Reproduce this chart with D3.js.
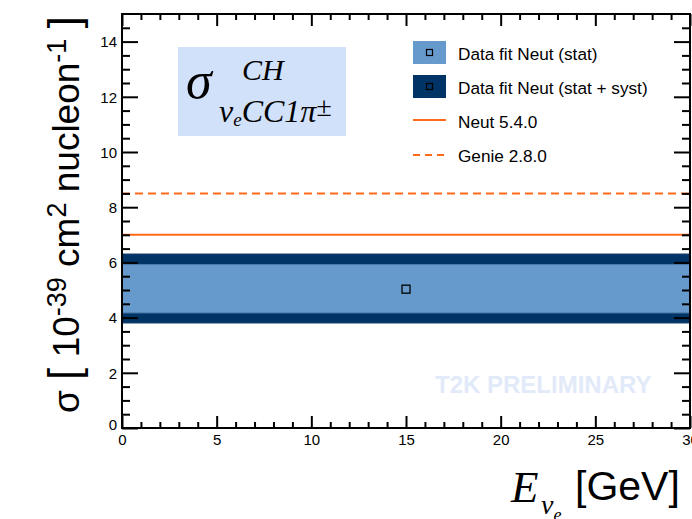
<!DOCTYPE html>
<html><head><meta charset="utf-8">
<script src="https://cdn.jsdelivr.net/npm/d3@7"></script>
<style>body{margin:0;background:#fff}svg{display:block}</style>
</head><body>
<script>
// ---- data ----
const xDomain = [0, 30];
const yDomain = [0, 15];
const xMajorTicks = [0, 5, 10, 15, 20, 25, 30];
const xMinorTicks = [1,2,3,4,6,7,8,9,11,12,13,14,16,17,18,19,21,22,23,24,26,27,28,29];
const yMajorTicks = [0, 2, 4, 6, 8, 10, 12, 14];
const yMinorTicks = [0.5,1,1.5,2.5,3,3.5,4.5,5,5.5,6.5,7,7.5,8.5,9,9.5,10.5,11,11.5,12.5,13,13.5,14.5];
const fitEnergy = [15];
const fitXsec = [5.03];
const statLow = [4.17];
const statHigh = [5.92];
const totLow = [3.79];
const totHigh = [6.32];
const neutXsec = [7.0];
const genieXsec = [8.5];
const legendLabels = ["Data fit Neut (stat)", "Data fit Neut (stat + syst)", "Neut 5.4.0", "Genie 2.8.0"];

// ---- styles ----
const W = 692, H = 519;
const L = 122, R = 690, T = 14, B = 428;
const cStat = "#6699cc", cTot = "#003366", cOrange = "#ff6a1a";
const sans = "'Liberation Sans', Arial, Helvetica, sans-serif";
const serif = "'Liberation Serif', 'Times New Roman', serif";

const svg = d3.select("body").append("svg").attr("width", W).attr("height", H);
const x = d3.scaleLinear().domain(xDomain).range([L, R]);
const y = d3.scaleLinear().domain(yDomain).range([B, T]);

// bands
const g = svg.append("g");
g.selectAll("rect.tot").data(totLow).join("rect").attr("class", "tot")
  .attr("x", x(xDomain[0])).attr("width", x(xDomain[1]) - x(xDomain[0]))
  .attr("y", (d, i) => y(totHigh[i])).attr("height", (d, i) => y(d) - y(totHigh[i]))
  .attr("fill", cTot).attr("stroke", "#8d9db0").attr("stroke-width", 1);
g.selectAll("rect.stat").data(statLow).join("rect").attr("class", "stat")
  .attr("x", x(xDomain[0])).attr("width", x(xDomain[1]) - x(xDomain[0]))
  .attr("y", (d, i) => y(statHigh[i])).attr("height", (d, i) => y(d) - y(statHigh[i]))
  .attr("fill", cStat).attr("stroke", "#4f7faf").attr("stroke-width", 1);
// point
g.selectAll("rect.pt").data(fitXsec).join("rect").attr("class", "pt")
  .attr("x", (d, i) => x(fitEnergy[i]) - 4).attr("y", d => y(d) - 4)
  .attr("width", 8).attr("height", 8).attr("fill", "none").attr("stroke", "#000").attr("stroke-width", 1.3);
// model lines
g.selectAll("line.neut").data(neutXsec).join("line")
  .attr("x1", x(xDomain[0])).attr("x2", x(xDomain[1])).attr("y1", d => y(d)).attr("y2", d => y(d))
  .attr("stroke", cOrange).attr("stroke-width", 2);
g.selectAll("line.genie").data(genieXsec).join("line")
  .attr("x1", x(xDomain[0])).attr("x2", x(xDomain[1])).attr("y1", d => y(d)).attr("y2", d => y(d))
  .attr("stroke", cOrange).attr("stroke-width", 2).attr("stroke-dasharray", "8,5");

// T2K preliminary
svg.append("text").attr("x", 435).attr("y", 393).attr("font-family", sans).attr("font-weight", "bold")
  .attr("font-size", 24).attr("fill", "#e2eafa").text("T2K PRELIMINARY");

// axes
function styleAxis(sel) {
  sel.select(".domain").remove();
  sel.selectAll(".tick line").attr("stroke", "#000").attr("stroke-width", 2);
  sel.selectAll("text").attr("font-family", sans).attr("font-size", 15).attr("fill", "#000");
}
svg.append("g").attr("transform", `translate(0,${B})`)
  .call(d3.axisBottom(x).tickValues(xMajorTicks).tickSizeInner(-12).tickSizeOuter(0).tickPadding(4).tickFormat(d3.format("d")))
  .call(styleAxis).call(s => s.selectAll("text").attr("dy", "0.75em").attr("y", 6));
svg.append("g").attr("transform", `translate(0,${B})`)
  .call(d3.axisBottom(x).tickValues(xMinorTicks).tickSizeInner(-6).tickSizeOuter(0).tickFormat(""))
  .call(styleAxis);
svg.append("g").attr("transform", `translate(0,${T})`)
  .call(d3.axisTop(x).tickValues(xMajorTicks).tickSizeInner(-12).tickSizeOuter(0).tickFormat(""))
  .call(styleAxis);
svg.append("g").attr("transform", `translate(0,${T})`)
  .call(d3.axisTop(x).tickValues(xMinorTicks).tickSizeInner(-6).tickSizeOuter(0).tickFormat(""))
  .call(styleAxis);
svg.append("g").attr("transform", `translate(${L},0)`)
  .call(d3.axisLeft(y).tickValues(yMajorTicks).tickSizeInner(-16).tickSizeOuter(0).tickPadding(4).tickFormat(d3.format("d")))
  .call(styleAxis)
  .call(s => s.selectAll("text").attr("x", -5).attr("dy", (d) => d === 0 ? "0.1em" : "0.35em"));
svg.append("g").attr("transform", `translate(${L},0)`)
  .call(d3.axisLeft(y).tickValues(yMinorTicks).tickSizeInner(-8).tickSizeOuter(0).tickFormat(""))
  .call(styleAxis);
svg.append("g").attr("transform", `translate(${R},0)`)
  .call(d3.axisRight(y).tickValues(yMajorTicks).tickSizeInner(-16).tickSizeOuter(0).tickFormat(""))
  .call(styleAxis);
svg.append("g").attr("transform", `translate(${R},0)`)
  .call(d3.axisRight(y).tickValues(yMinorTicks).tickSizeInner(-8).tickSizeOuter(0).tickFormat(""))
  .call(styleAxis);

// frame
svg.append("rect").attr("x", L).attr("y", T).attr("width", R - L).attr("height", B - T)
  .attr("fill", "none").attr("stroke", "#000").attr("stroke-width", 2);

// formula box
svg.append("rect").attr("x", 178).attr("y", 47).attr("width", 168).attr("height", 89).attr("fill", "#d2e1fa");
const f = svg.append("g").attr("font-family", serif).attr("font-style", "italic").attr("fill", "#000");
f.append("text").attr("x", 186).attr("y", 98).attr("font-size", 52).text("σ");
f.append("text").attr("x", 242).attr("y", 80).attr("font-size", 30).text("CH");
const sub = f.append("text").attr("x", 219).attr("y", 122).attr("font-size", 32);
sub.append("tspan").text("ν");
sub.append("tspan").attr("font-size", 19).attr("dy", 4).text("e");
sub.append("tspan").attr("dy", -4).text("CC1π");
sub.append("tspan").attr("font-size", 28).attr("dy", -6).text("±");

// legend
const lg = svg.append("g");
const boxes = [cStat, cTot];
boxes.forEach((c, i) => {
  const yy = 41 + i * 34;
  lg.append("rect").attr("x", 413).attr("y", yy).attr("width", 33).attr("height", 23).attr("fill", c);
  lg.append("rect").attr("x", 426.5).attr("y", yy + 8.5).attr("width", 6).attr("height", 6)
    .attr("fill", "none").attr("stroke", "#000").attr("stroke-width", 1.2);
});
lg.append("line").attr("x1", 413).attr("x2", 446).attr("y1", 120).attr("y2", 120).attr("stroke", cOrange).attr("stroke-width", 2);
lg.append("line").attr("x1", 413).attr("x2", 446).attr("y1", 155).attr("y2", 155).attr("stroke", cOrange).attr("stroke-width", 2).attr("stroke-dasharray", "7,5");
lg.selectAll("text").data(legendLabels).join("text")
  .attr("x", 458).attr("y", (d, i) => 60 + i * 34)
  .attr("font-family", sans).attr("font-size", 17.2).attr("fill", "#000").text(d => d);

// y axis title
const yt = svg.append("text").attr("transform", "translate(79,413) rotate(-90)")
  .attr("font-family", sans).attr("font-size", 37).attr("fill", "#000");
yt.append("tspan").text("σ ");
yt.append("tspan").attr("font-size", 44).text("[");
yt.append("tspan").text(" 10");
yt.append("tspan").attr("font-size", 27).attr("dy", -13).text("-39");
yt.append("tspan").attr("dy", 13).text(" cm");
yt.append("tspan").attr("font-size", 27).attr("dy", -13).text("2");
yt.append("tspan").attr("dy", 13).text(" nucleon");
yt.append("tspan").attr("font-size", 27).attr("dy", -13).text("-1");
yt.append("tspan").attr("dy", 13).text(" ");
yt.append("tspan").attr("font-size", 44).text("]");

// x axis title
const xt = svg.append("g").attr("fill", "#000");
xt.append("text").attr("x", 511).attr("y", 502).attr("font-family", serif).attr("font-style", "italic").attr("font-size", 45).text("E");
const xs = xt.append("text").attr("x", 541).attr("y", 514).attr("font-family", serif).attr("font-style", "italic").attr("font-size", 28);
xs.append("tspan").text("ν");
xs.append("tspan").attr("font-size", 18).attr("dy", 7).text("e");
xt.append("text").attr("x", 575).attr("y", 500).attr("font-family", sans).attr("font-size", 41).text("[GeV]");
</script>
</body></html>
